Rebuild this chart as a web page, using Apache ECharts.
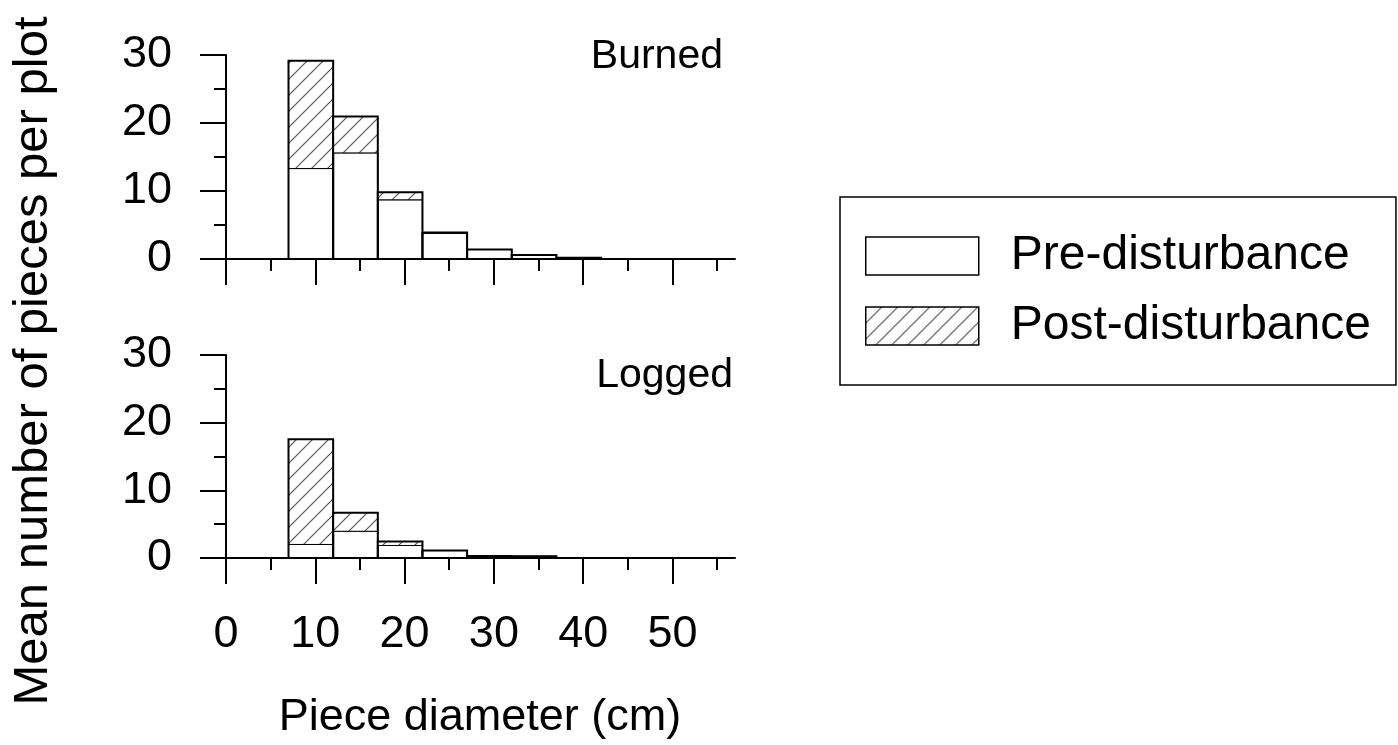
<!DOCTYPE html>
<html>
<head>
<meta charset="utf-8">
<script src="https://cdn.jsdelivr.net/npm/echarts@6/dist/echarts.min.js"></script>
<style>
html,body{margin:0;padding:0;background:#fff;}
#chart{width:1398px;height:745px;}
</style>
</head>
<body>
<div id="chart"></div>
<script>
// Bin edges (cm)
const binLo = [7, 12, 17, 22, 27, 32, 37, 42, 47, 52];
const binHi = [12, 17, 22, 27, 32, 37, 42, 47, 52, 57];
// Burned panel
const burnedPre  = [13.3, 15.6, 8.7, 3.75, 1.4, 0.6, 0.2, 0, 0, 0];
const burnedPost = [15.85, 5.35, 1.1, 0.15, 0, 0, 0, 0, 0, 0];
// Logged panel
const loggedPre  = [2.0, 3.95, 1.85, 1.1, 0.3, 0.25, 0, 0, 0, 0];
const loggedPost = [15.55, 2.75, 0.6, 0, 0, 0, 0, 0, 0, 0];
// Tick values
const xMajor = [0, 10, 20, 30, 40, 50];
const xMinor = [5, 15, 25, 35, 45, 55];
const panelNames = ['Burned', 'Logged'];
const seriesNames = ['Pre-disturbance', 'Post-disturbance'];

const FONT = '"Liberation Sans", Arial, sans-serif';

// hatch pattern
const tile = document.createElement('canvas');
tile.width = 16; tile.height = 16;
(function () {
  const c = tile.getContext('2d');
  c.fillStyle = '#fff';
  c.fillRect(0, 0, 16, 16);
  c.strokeStyle = '#555';
  c.lineWidth = 1.2;
  c.beginPath();
  c.moveTo(-8, 8); c.lineTo(8, -8);
  c.moveTo(0, 16); c.lineTo(16, 0);
  c.moveTo(8, 24); c.lineTo(24, 8);
  c.stroke();
})();
const hatch = { image: tile, repeat: 'repeat' };

const grids = [
  { left: 226, top: 55, width: 509, height: 204 },
  { left: 226, top: 355, width: 509, height: 203 }
];

const xAxes = [];
const yAxes = [];
const series = [];

[0, 1].forEach(function (g) {
  const isBottom = g === 1;
  // major x axis
  xAxes.push({
    type: 'value', gridIndex: g, min: 0, max: 57, position: 'bottom',
    axisLine: { show: true, onZero: false, lineStyle: { color: '#000', width: 2 } },
    axisTick: { show: true, inside: false, length: 26, customValues: xMajor, lineStyle: { color: '#000', width: 2 } },
    axisLabel: {
      show: isBottom, customValues: xMajor, margin: 54,
      fontSize: 45, color: '#000', fontFamily: FONT
    },
    splitLine: { show: false }
  });
  // minor x axis
  xAxes.push({
    type: 'value', gridIndex: g, min: 0, max: 57, position: 'bottom', offset: 0,
    axisLine: { show: false, onZero: false },
    axisTick: { show: true, inside: false, length: 12, customValues: xMinor, lineStyle: { color: '#000', width: 2 } },
    axisLabel: { show: false },
    splitLine: { show: false }
  });
  yAxes.push({
    type: 'value', gridIndex: g, min: 0, max: 30, interval: 10,
    axisLine: { show: true, onZero: false, lineStyle: { color: '#000', width: 2 } },
    axisTick: { show: true, inside: false, length: 26, lineStyle: { color: '#000', width: 2 } },
    minorTick: { show: true, splitNumber: 2, length: 12, lineStyle: { color: '#000', width: 2 } },
    axisLabel: { margin: 54, fontSize: 45, color: '#000', fontFamily: FONT },
    splitLine: { show: false }
  });

  const pre = g === 0 ? burnedPre : loggedPre;
  const post = g === 0 ? burnedPost : loggedPost;
  const data = binLo.map(function (lo, i) { return [lo, binHi[i], pre[i], post[i]]; });

  series.push({
    name: seriesNames[0], type: 'custom', xAxisIndex: g * 2, yAxisIndex: g,
    itemStyle: { color: '#fff', borderColor: '#000' },
    encode: { x: [0, 1], y: [2] },
    silent: true,
    data: data,
    renderItem: function (params, api) {
      const v = api.value(2);
      if (!(v > 0)) return null;
      const p0 = api.coord([api.value(0), 0]);
      const p1 = api.coord([api.value(1), v]);
      return {
        type: 'rect',
        shape: { x: p0[0], y: p1[1], width: p1[0] - p0[0], height: p0[1] - p1[1] },
        style: { fill: '#fff', stroke: '#000', lineWidth: 1 }
      };
    }
  });
  series.push({
    name: seriesNames[1], type: 'custom', xAxisIndex: g * 2, yAxisIndex: g,
    itemStyle: { color: hatch, borderColor: '#000' },
    encode: { x: [0, 1], y: [2, 3] },
    silent: true,
    z: 3,
    data: data,
    renderItem: function (params, api) {
      const lo = api.value(0), hi = api.value(1);
      const pv = api.value(2), qv = api.value(3);
      const tot = pv + qv;
      if (!(tot > 0)) return null;
      const children = [];
      if (qv > 0) {
        const a = api.coord([lo, pv]);
        const b = api.coord([hi, tot]);
        children.push({
          type: 'rect',
          shape: { x: a[0], y: b[1], width: b[0] - a[0], height: a[1] - b[1] },
          style: { fill: hatch, stroke: null }
        });
        children.push({
          type: 'line',
          shape: { x1: a[0], y1: a[1], x2: b[0], y2: a[1] },
          style: { stroke: '#000', lineWidth: 1 }
        });
      }
      const c0 = api.coord([lo, 0]);
      const c1 = api.coord([hi, tot]);
      children.push({
        type: 'rect',
        shape: { x: c0[0], y: c1[1], width: c1[0] - c0[0], height: c0[1] - c1[1] },
        style: { fill: null, stroke: '#000', lineWidth: 2 }
      });
      return { type: 'group', children: children };
    }
  });
});

const chart = echarts.init(document.getElementById('chart'), null, { renderer: 'canvas' });
chart.setOption({
  animation: false,
  backgroundColor: '#fff',
  grid: grids,
  xAxis: xAxes,
  yAxis: yAxes,
  series: series,
  legend: {
    show: true,
    left: 840, top: 197,
    orient: 'vertical',
    selectedMode: false,
    itemWidth: 113, itemHeight: 38, itemGap: 22,
    padding: [35, 25, 35, 25],
    borderColor: '#000', borderWidth: 1.5, borderRadius: 0,
    textStyle: { fontSize: 48, color: '#000', fontFamily: FONT, lineHeight: 38, padding: [0, 0, 0, 27] },
    data: [
      { name: seriesNames[0], icon: 'rect', itemStyle: { color: '#fff', borderColor: '#000', borderWidth: 1.5 } },
      { name: seriesNames[1], icon: 'rect', itemStyle: { color: hatch, borderColor: '#000', borderWidth: 1.5 } }
    ]
  },
  graphic: [
    { type: 'text', right: 1398 - 723, top: 36, style: { text: panelNames[0], fontSize: 41, fontFamily: FONT, fill: '#000' } },
    { type: 'text', right: 1398 - 733, top: 355, style: { text: panelNames[1], fontSize: 41, fontFamily: FONT, fill: '#000' } },
    { type: 'text', x: 480, y: 718, style: { text: 'Piece diameter (cm)', fontSize: 45, fontFamily: FONT, fill: '#000', align: 'center', verticalAlign: 'middle' } },
    { type: 'text', x: 33, y: 361, rotation: Math.PI / 2, style: { text: 'Mean number of pieces per plot', fontSize: 49, fontFamily: FONT, fill: '#000', align: 'center', verticalAlign: 'middle' } }
  ]
});
</script>
</body>
</html>
